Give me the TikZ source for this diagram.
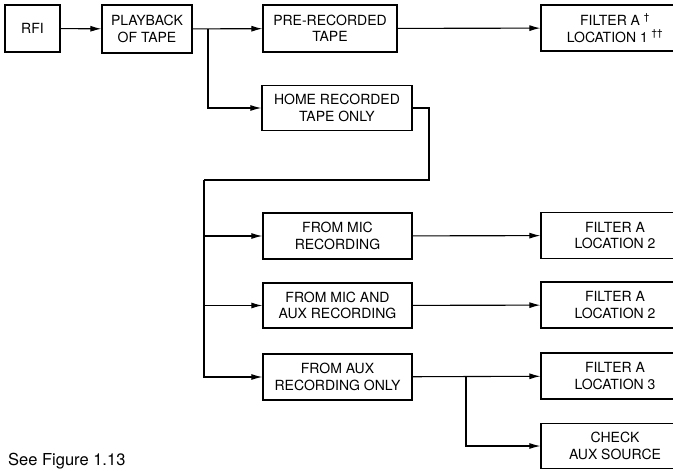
\documentclass[tikz,border=0pt]{standalone}
\usepackage{fontspec}
\setmainfont{TeX Gyre Heros}
\usetikzlibrary{arrows.meta,positioning}

\begin{document}
\begin{tikzpicture}[
  x=1pt,y=-1pt,
  >={Latex[length=11pt,width=6pt]},
  box/.style={draw,line width=1.2pt,align=center,inner sep=2pt,
    minimum width=149pt,minimum height=46pt,font=\fontsize{14}{16.5}\selectfont},
  link/.style={line width=1.1pt},
  flow/.style={->,line width=1.1pt},
  note/.style={font=\fontsize{16.5}{19}\selectfont}
]
\useasboundingbox (0,0) rectangle (673,471);

% ---- source and playback ----
\node[box,minimum width=55pt,minimum height=47pt] (rfi) at (32.5,28.5) {RFI};
\node[box,minimum width=90pt,minimum height=48pt] (play) at (147,29) {PLAYBACK\\OF TAPE};
\draw[flow] (rfi) -- (play);

% ---- kind of tape ----
\node[box,minimum width=134pt,minimum height=47pt] (pre) at (330,28.5) {PRE-RECORDED\\TAPE};
\node[box,minimum width=150pt,minimum height=45pt] (home) at (337,108) {HOME RECORDED\\TAPE ONLY};
\coordinate (split1) at (208,29);
\draw[flow] (play) -- (pre);
\draw[flow] (split1) |- (home);

% ---- remedies (right column, runs past the page edge) ----
\node[box,minimum width=148pt] (filA) at (615,28) {FILTER A~\textsuperscript{†}\\LOCATION 1~\textsuperscript{††}};
\node[box,minimum width=148pt] (filB) at (615,235.5) {FILTER A\\LOCATION 2};
\node[box,minimum width=148pt] (filC) at (615,305) {FILTER A\\LOCATION 2};
\node[box,minimum width=148pt] (filD) at (615,376) {FILTER A\\LOCATION 3};
\node[box,minimum width=148pt,minimum height=45pt] (check) at (615,446) {CHECK\\AUX SOURCE};
\draw[flow] (pre) -- (filA);

% ---- home recorded: source of recording ----
\node[box] (mic) at (337.5,236) {FROM MIC\\RECORDING};
\node[box,minimum height=45pt] (micaux) at (337.5,305.5) {FROM MIC AND\\AUX RECORDING};
\node[box] (aux) at (337.5,377) {FROM AUX\\RECORDING ONLY};

\coordinate (turn2) at (429,180);
\coordinate (turn3) at (204,180);
\draw[link] (home) -| (turn2) -- (turn3);
\draw[flow] (turn3) |- (aux);
\draw[flow] (turn3 |- mic) -- (mic);
\draw[flow] (turn3 |- micaux) -- (micaux);

\draw[flow] (mic) -- (filB);
\draw[flow] (micaux) -- (filC);
\draw[flow] (aux) -- (filD);
\coordinate (split2) at (466,377);
\draw[flow] (split2) |- (check);

\node[note,anchor=base west,inner sep=0pt] (seefig) at (8,465) {See Figure 1.13};

\end{tikzpicture}
\end{document}
